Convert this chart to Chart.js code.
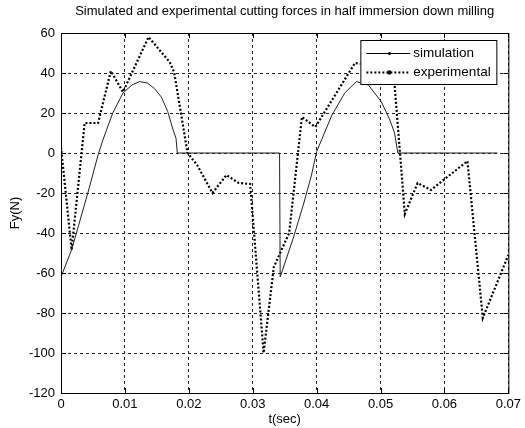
<!DOCTYPE html>
<html>
<head>
<meta charset="utf-8">
<script src="https://cdn.jsdelivr.net/npm/chart.js@4"></script>
<style>
  html, body { margin:0; padding:0; background:#fff; }
  #wrap { width:525px; height:428px; }
</style>
</head>
<body>
<div id="wrap"><canvas id="forceChart" width="525" height="428"></canvas></div>
<script>
// cutting force Fy, simulated vs measured, two tooth passes
const simT = [0, 0.0017, 0.0042, 0.0058, 0.0065, 0.0081, 0.0097, 0.0111, 0.0123, 0.0135, 0.0146, 0.0157, 0.0167, 0.0175, 0.018, 0.0182,
              0.0342, 0.0343, 0.0364, 0.038, 0.0392, 0.04, 0.0424, 0.0444, 0.0462, 0.0481, 0.0501, 0.0514, 0.0522, 0.0527, 0.0683];
const simF = [-62, -48, -20, -1, 6, 20, 30, 34, 35.7, 35, 32.3, 28, 20.7, 12, 7.3, 0,
              0, -62, -42, -25, -11, 0.7, 19, 30, 35.7, 34, 25.7, 17, 10, 0, 0];

const expT = [0, 0.00166, 0.0037, 0.0058, 0.0078, 0.0097, 0.0137, 0.017, 0.0177, 0.0198, 0.0213, 0.0237, 0.0259, 0.0278, 0.0296,
              0.0317, 0.0333, 0.0357, 0.0377, 0.0398, 0.046, 0.0485, 0.0508, 0.0522, 0.0538, 0.0558, 0.0579, 0.0636, 0.066, 0.07];
const expF = [3, -48.5, 15, 15, 41, 30.5, 58, 45.5, 40.5, 0, -6, -20, -11, -15, -15.5,
              -100, -57, -40, 18, 13, 45, 44, 40, 34, -30.5, -15, -18.5, -4, -82.5, -51];

const xTicks = [0, 0.01, 0.02, 0.03, 0.04, 0.05, 0.06, 0.07];
const yTicks = [-120, -100, -80, -60, -40, -20, 0, 20, 40, 60];

const titleText = 'Simulated and experimental cutting forces in half immersion down milling';
const legendItems = [
  { label:'simulation', width:1, dash:[] },
  { label:'experimental', width:2, dash:[2, 2] }
];

const FONT = '"Liberation Sans", Arial, Helvetica, sans-serif';
const toXY = (ts, fs) => ts.map((t, i) => ({ x:t, y:fs[i] }));

// box, inward ticks, title and legend drawn the matlab way
const frame = {
  id:'frame',
  afterDraw(chart){
    const { ctx, chartArea:a, scales:{ x, y } } = chart;
    ctx.save();
    ctx.strokeStyle = '#000';
    ctx.lineWidth = 1;
    ctx.setLineDash([]);
    ctx.strokeRect(a.left + 0.5, a.top + 0.5, a.right - a.left, a.bottom - a.top);

    const tl = 5;
    ctx.beginPath();
    xTicks.forEach(v => {
      const px = Math.round(x.getPixelForValue(v)) + 0.5;
      ctx.moveTo(px, a.bottom); ctx.lineTo(px, a.bottom - tl);
      ctx.moveTo(px, a.top); ctx.lineTo(px, a.top + tl);
    });
    yTicks.forEach(v => {
      const py = Math.round(y.getPixelForValue(v)) + 0.5;
      ctx.moveTo(a.left, py); ctx.lineTo(a.left + tl, py);
      ctx.moveTo(a.right, py); ctx.lineTo(a.right - tl, py);
    });
    ctx.stroke();

    // title
    ctx.fillStyle = '#000';
    ctx.font = '13px ' + FONT;
    ctx.textAlign = 'center';
    ctx.textBaseline = 'middle';
    ctx.fillText(titleText, (a.left + a.right) / 2, 11);

    // legend
    const bx = a.right - 148, by = a.top + 7, bw = 136, bh = 44;
    ctx.fillStyle = '#fff';
    ctx.fillRect(bx, by, bw, bh);
    ctx.strokeStyle = '#000';
    ctx.lineWidth = 1;
    ctx.strokeRect(bx + 0.5, by + 0.5, bw, bh);
    legendItems.forEach((it, i) => {
      const ly = by + 13.5 + i * 19;
      ctx.beginPath();
      ctx.lineWidth = it.width;
      ctx.setLineDash(it.dash);
      ctx.moveTo(bx + 6, ly); ctx.lineTo(bx + 50, ly);
      ctx.stroke();
      ctx.setLineDash([]);
      ctx.beginPath();
      ctx.fillStyle = '#000';
      ctx.arc(bx + 29, ly, i ? 2.2 : 1.5, 0, Math.PI * 2);
      ctx.fill();
      ctx.font = '13.5px ' + FONT;
      ctx.textAlign = 'left';
      ctx.fillText(it.label, bx + 53, ly);
    });
    ctx.restore();
  }
};

new Chart(document.getElementById('forceChart'), {
  type:'line',
  data:{
    datasets:[
      { label:'simulation', data:toXY(simT, simF), borderColor:'#222', borderWidth:1,
        pointRadius:0, tension:0, fill:false },
      { label:'experimental', data:toXY(expT, expF), borderColor:'#000', borderWidth:2.2,
        borderDash:[2, 2], pointRadius:0, tension:0, fill:false }
    ]
  },
  options:{
    responsive:false,
    animation:false,
    events:[],
    layout:{ padding:{ top:33, right:14, left:0, bottom:0 } },
    plugins:{ legend:{ display:false }, title:{ display:false }, tooltip:{ enabled:false } },
    scales:{
      x:{
        type:'linear', min:0, max:0.07,
        afterBuildTicks: s => { s.ticks = xTicks.map(v => ({ value:v })); },
        afterFit: s => { s.height = 35; },
        ticks:{ color:'#000', font:{ family:FONT, size:13 }, padding:4,
          callback: v => String(+v.toFixed(2)) },
        grid:{ color:'#222', lineWidth:1, drawTicks:false },
        border:{ display:true, color:'#000', dash:[3, 3] },
        title:{ display:true, text:'t(sec)', color:'#000', font:{ family:FONT, size:13 }, padding:{ top:0, bottom:1 } }
      },
      y:{
        min:-120, max:60,
        afterBuildTicks: s => { s.ticks = yTicks.map(v => ({ value:v })); },
        afterFit: s => { s.width = 61; },
        ticks:{ color:'#000', font:{ family:FONT, size:13 }, padding:6 },
        grid:{ color:'#222', lineWidth:1, drawTicks:false },
        border:{ display:true, color:'#000', dash:[3, 3] },
        title:{ display:true, text:'Fy(N)', color:'#000', font:{ family:FONT, size:13 }, padding:{ top:8, bottom:0 } }
      }
    }
  },
  plugins:[frame]
});
</script>
</body>
</html>
